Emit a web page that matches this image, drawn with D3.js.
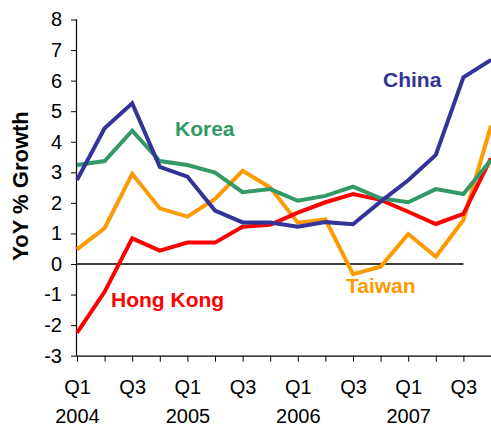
<!DOCTYPE html>
<html><head><meta charset="utf-8">
<script src="https://cdn.jsdelivr.net/npm/d3@7"></script>
<style>html,body{margin:0;padding:0;background:#fff;}svg{display:block;}</style>
</head><body>
<svg id="chart" width="491" height="430"></svg>
<script>
const quarters = ["Q1 2004","Q2 2004","Q3 2004","Q4 2004","Q1 2005","Q2 2005","Q3 2005","Q4 2005","Q1 2006","Q2 2006","Q3 2006","Q4 2006","Q1 2007","Q2 2007","Q3 2007","Q4 2007"];
const quarterLabels = ["Q1","","Q3","","Q1","","Q3","","Q1","","Q3","","Q1","","Q3",""];
const yearLabels = ["2004","","","","2005","","","","2006","","","","2007","","",""];
const china    = [2.75,4.44,5.26,3.18,2.86,1.75,1.36,1.36,1.22,1.37,1.30,2.04,2.74,3.57,6.11,6.68];
const korea    = [3.24,3.37,4.36,3.37,3.24,2.99,2.35,2.45,2.07,2.23,2.53,2.15,2.02,2.45,2.29,3.40];
const hongKong = [-2.25,-0.91,0.84,0.44,0.70,0.70,1.22,1.28,1.68,2.02,2.29,2.10,1.71,1.31,1.64,3.46];
const taiwan   = [0.48,1.17,2.95,1.82,1.55,2.13,3.05,2.50,1.35,1.46,-0.33,-0.09,0.98,0.24,1.44,4.52];
const yTicks = [-3,-2,-1,0,1,2,3,4,5,6,7,8];

const series = [
  {name:"Taiwan", values:taiwan, color:"#FF9900", lx:346, ly:293},
  {name:"Hong Kong", values:hongKong, color:"#FF0000", lx:111, ly:307},
  {name:"Korea", values:korea, color:"#339966", lx:175, ly:136},
  {name:"China", values:china, color:"#333399", lx:383, ly:87}
];

const svg = d3.select("#chart");
const mLeft = 77, mRight = 491, mTop = 19.5, mBottom = 355.7;
const x = d3.scalePoint().domain(quarters).range([mLeft, mRight]);
const y = d3.scaleLinear().domain([-3, 8]).range([mBottom, mTop]);
const font = "Arial, 'Liberation Sans', sans-serif";

// Y axis
const yAxis = d3.axisLeft(y).tickValues(yTicks).tickSize(6).tickPadding(9).tickFormat(d => String(d));
const gy = svg.append("g").attr("transform", `translate(${mLeft},0)`).call(yAxis);
gy.select(".domain").attr("d", `M-0.5,${mTop}V${mBottom}`).attr("stroke","#000").attr("stroke-width",1.2);
gy.selectAll(".tick line").attr("stroke","#000").attr("stroke-width",1);
gy.selectAll(".tick text").attr("font-family", font).attr("font-size", 20).attr("fill","#000");

// X axis
const xAxis = d3.axisBottom(x).tickSize(6).tickFormat(()=>"");
const gx = svg.append("g").attr("transform", `translate(0,${mBottom})`).call(xAxis);
gx.select(".domain").attr("d", `M${mLeft},0.5H${mRight}`).attr("stroke","#000").attr("stroke-width",1.2);
gx.selectAll(".tick line").attr("stroke","#000").attr("stroke-width",1);
gx.selectAll(".tick text").remove();
gx.selectAll(".tick").append("text")
  .attr("y", 38).attr("text-anchor","middle")
  .attr("font-family", font).attr("font-size", 20).attr("fill","#000")
  .text((d,i)=>quarterLabels[i]);
gx.selectAll(".tick").append("text")
  .attr("y", 67.5).attr("text-anchor","middle")
  .attr("font-family", font).attr("font-size", 20).attr("fill","#000")
  .text((d,i)=>yearLabels[i]);

// Zero line
svg.append("line")
  .attr("x1", x(quarters[0])).attr("x2", x(quarters[14]))
  .attr("y1", y(0)).attr("y2", y(0))
  .attr("stroke","#000").attr("stroke-width",1.5);

// Lines
const line = d3.line().x((d,i)=>x(quarters[i])).y(d=>y(d));
series.forEach(s=>{
  svg.append("path").datum(s.values)
    .attr("d", line).attr("fill","none")
    .attr("stroke", s.color).attr("stroke-width", 4)
    .attr("stroke-linejoin","miter").attr("stroke-miterlimit",3);
});
series.forEach(s=>{
  svg.append("text").attr("x", s.lx).attr("y", s.ly)
    .attr("font-family", font).attr("font-weight","bold").attr("font-size", 21)
    .attr("fill", s.color).text(s.name);
});

// Y label
svg.append("text")
  .attr("transform", `translate(28,186) rotate(-90)`)
  .attr("text-anchor","middle")
  .attr("font-family", font).attr("font-weight","bold").attr("font-size", 22)
  .attr("fill","#000").text("YoY % Growth");
</script>
</body></html>
